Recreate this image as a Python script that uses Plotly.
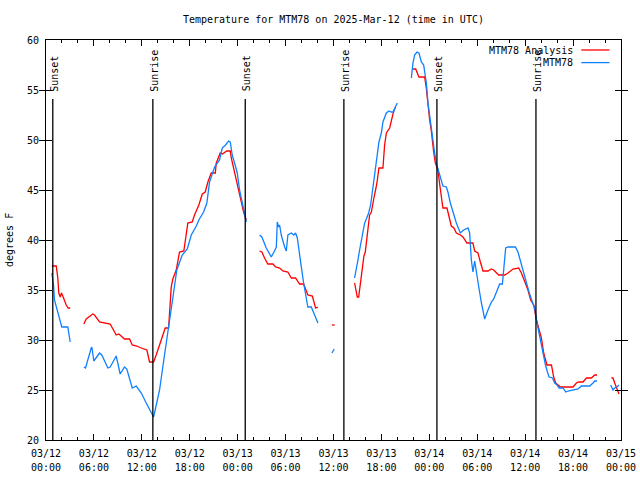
import datetime as dt
import plotly.graph_objects as go

# Hours since 2025-03-12 00:00 UTC; None marks a gap in the record
analysis_hours = [0.73, 1.28, 1.48, 1.60, 1.78, 1.94, 2.10, 2.53, 2.78, 3.03, None,
    4.74, 5.04, 5.86, 6.08, 6.70, 7.54, 8.04, 8.79, 9.12, 9.83, 10.46, 10.80, 11.37, 11.93,
    12.63, 12.97, 13.47, 13.80, 14.63, 14.93, 15.35, 15.68, 15.88, 16.31, 16.72, 17.26, 17.76,
    18.31, 18.60, 19.14, 19.57, 19.94, 20.27, 20.69, 21.20, 21.32, 21.82, 22.07, 22.65, 23.07,
    23.20, 23.40, 23.70, 24.03, 24.45, 24.74, 24.99, 25.08, None,
    26.74, 27.03, 27.37, 27.78, 28.41, 28.75, 29.25, 29.66, 30.29, 30.72, 31.25, 31.75, 32.26,
    32.59, 32.79, 33.35, 33.63, 33.76, 34.05, None,
    35.80, 36.14, None,
    38.64, 38.86, 38.98, 39.15, 39.27, 39.40, 39.56, 39.68, 39.81, 39.98, 40.11, 40.24, 40.40,
    40.52, 40.74, 40.94, 41.06, 41.24, 41.44, 41.69, 42.19, 42.40, 42.62, 43.03, 43.24, 43.57,
    43.78, None,
    45.87, 46.29, 46.70, 47.41, 47.62, 47.83, 48.04, 48.25, 48.45, 48.54, 48.75, 49.08, 49.29,
    49.50, 49.70, 50.21, 50.54, 50.75, 51.08, 51.38, 51.88, 52.21, 52.71, 53.46, 53.68, 54.09,
    54.39, 54.72, 55.34, 55.77, 56.06, 56.68, 57.43, 57.85, 58.47, 59.19, 59.53, 60.07, 60.35,
    60.69, 61.07, 61.41, 61.73, 62.03, 62.32, 62.57, 62.73, 63.29, 63.57, 63.82, 64.41, 65.99,
    66.42, 66.70, 67.24, 67.67, 68.29, 68.71, 69.00, None,
    70.80, 71.00, 71.21, 71.43, 71.75]
analysis_temp = [37.4, 37.4, 36.2, 34.7, 34.3, 34.7, 34.4, 33.5, 33.2, 33.2, None,
    31.6, 32.1, 32.6, 32.5, 31.8, 31.7, 31.6, 30.5, 30.6, 30.1, 30.1, 29.5, 29.4, 29.2,
    29.0, 27.8, 27.8, 28.5, 30.5, 31.2, 31.2, 35.3, 36.1, 37.0, 38.8, 38.9, 41.7,
    41.8, 42.5, 43.5, 44.6, 44.8, 45.8, 46.7, 46.7, 47.7, 48.7, 48.6, 48.9, 48.9,
    48.2, 47.5, 46.3, 45.3, 43.7, 42.8, 42.2, 42.0, None,
    38.9, 38.8, 38.2, 37.6, 37.6, 37.3, 37.2, 36.9, 36.8, 36.2, 36.2, 35.6, 35.6,
    35.0, 34.5, 34.4, 33.5, 33.2, 33.3, None,
    31.5, 31.5, None,
    35.7, 34.8, 34.3, 34.3, 35.0, 36.0, 37.0, 37.9, 38.4, 38.8, 39.7, 40.3, 41.7,
    42.5, 42.8, 43.5, 44.2, 44.9, 45.7, 47.2, 47.2, 49.5, 50.7, 51.2, 52.0, 53.0,
    53.3, None,
    57.1, 57.1, 56.3, 56.3, 55.2, 53.3, 52.0, 50.9, 49.0, 48.8, 47.7, 47.0, 45.6,
    44.3, 43.2, 43.2, 42.0, 41.4, 41.2, 40.7, 40.5, 40.3, 39.7, 39.7, 38.9, 38.7,
    37.8, 36.9, 36.9, 37.1, 37.0, 36.5, 36.5, 36.7, 37.1, 37.2, 36.7, 35.7, 35.0,
    34.0, 33.5, 32.0, 31.0, 30.2, 28.7, 27.8, 27.5, 27.5, 26.3, 25.7, 25.3, 25.3,
    25.7, 25.8, 25.8, 26.2, 26.2, 26.5, 26.5, None,
    26.2, 26.2, 25.7, 25.2, 24.6]

obs_hours = [0.73, 0.94, 1.06, 1.28, 1.48, 1.78, 1.98, 2.73, 2.86, 3.03, None,
    4.74, 4.95, 5.66, 5.74, 5.99, 6.70, 6.99, 7.74, 8.04, 8.79, 9.29, 9.83, 10.12, 10.80,
    11.30, 11.93, 12.55, 13.18, 13.47, 13.59, 14.22, 14.84, 15.26, 15.88, 16.38, 17.06, 17.69,
    18.19, 18.82, 19.14, 19.73, 20.14, 20.48, 20.89, 21.11, 21.73, 22.07, 22.48, 22.86, 23.07,
    23.32, 23.61, 23.95, 24.24, 24.65, 24.95, 25.08, None,
    26.74, 27.03, 27.58, 28.21, 28.54, 28.84, 28.96, 29.13, 29.25, 29.46, 29.88, 30.09, 30.29,
    30.72, 31.04, 31.25, 31.47, 31.75, 31.97, 32.26, 32.51, 32.79, 33.22, 33.63, 34.05, None,
    35.80, 36.10, None,
    38.64, 38.86, 39.06, 39.27, 39.48, 39.68, 39.90, 40.11, 40.40, 40.65, 40.81, 40.94, 41.24,
    41.49, 41.69, 41.99, 42.19, 42.62, 42.94, 43.24, 43.53, 43.74, 43.99, None,
    45.75, 45.95, 46.16, 46.45, 46.70, 47.00, 47.29, 47.63, 47.83, 48.25, 48.67, 48.87, 49.20,
    49.50, 49.70, 50.13, 50.33, 50.63, 50.96, 51.38, 51.88, 52.30, 52.84, 53.05, 53.26, 53.46,
    53.68, 53.89, 54.09, 54.52, 54.93, 55.34, 55.77, 56.06, 56.47, 56.81, 57.15, 57.22, 57.56,
    57.85, 58.78, 59.10, 59.53, 60.07, 60.48, 60.90, 61.19, 61.48, 61.82, 62.24, 62.54, 62.79,
    62.99, 63.41, 63.70, 63.99, 64.24, 64.74, 65.08, 65.37, 66.20, 66.62, 67.04, 68.08, 68.50,
    68.71, 69.00, None,
    70.71, 71.00, 71.21, 71.50, 71.75]
obs_temp = [36.7, 35.5, 34.0, 33.3, 32.7, 32.0, 31.3, 31.3, 30.5, 29.8, None,
    27.3, 27.2, 29.2, 29.3, 27.9, 28.7, 28.5, 27.2, 27.3, 28.4, 26.6, 27.3, 27.1, 25.2,
    25.4, 24.7, 23.7, 22.8, 22.3, 22.7, 25.0, 28.5, 31.0, 34.2, 37.0, 38.5, 39.1,
    40.5, 41.4, 42.0, 42.8, 43.7, 45.8, 46.8, 47.3, 48.0, 49.2, 49.5, 49.9, 49.8,
    48.5, 47.7, 46.7, 45.0, 43.3, 42.2, 41.8, None,
    40.5, 40.3, 39.2, 38.3, 38.8, 39.3, 41.8, 41.3, 41.5, 40.5, 39.3, 38.9, 40.5,
    40.7, 40.5, 40.7, 40.2, 38.8, 37.3, 35.7, 34.7, 33.3, 33.3, 32.5, 31.7, None,
    28.7, 29.1, None,
    36.2, 37.0, 38.0, 39.0, 40.0, 40.8, 41.7, 42.1, 42.7, 43.5, 44.5, 45.0, 47.2,
    48.7, 49.8, 50.7, 51.8, 52.7, 52.9, 52.8, 52.8, 53.3, 53.7, None,
    56.2, 57.7, 58.5, 58.8, 58.7, 57.8, 57.5, 55.7, 53.7, 51.0, 48.7, 47.7, 46.7,
    45.8, 45.4, 45.3, 44.8, 43.7, 42.8, 41.7, 40.7, 41.0, 41.2, 40.7, 38.0, 36.8,
    37.9, 36.7, 35.8, 33.7, 32.1, 33.0, 33.8, 34.1, 35.0, 35.6, 35.6, 36.3, 39.2,
    39.3, 39.3, 38.8, 37.5, 35.8, 34.8, 33.8, 33.2, 31.7, 30.3, 28.8, 27.5, 26.8,
    26.3, 26.2, 25.7, 25.5, 25.2, 25.2, 24.8, 24.9, 25.0, 25.1, 25.4, 25.4, 25.7,
    25.9, 25.9, None,
    25.5, 25.0, 25.2, 25.3, 25.5]

sun_labels = ["Sunset", "Sunrise", "Sunset", "Sunrise", "Sunset", "Sunrise"]
sun_hours = [0.85, 13.38, 24.95, 37.30, 48.95, 61.35]

series_names = ["MTM78 Analysis", "MTM78"]
series_colors = ["#ff0000", "#1080ff"]

start = dt.datetime(2025, 3, 12, 0, 0)
end = dt.datetime(2025, 3, 15, 0, 0)


def to_time(hours):
    return [None if h is None else start + dt.timedelta(hours=h) for h in hours]


FONT = "DejaVu Sans Mono"
fig = go.Figure()

fig.add_trace(go.Scatter(x=to_time(analysis_hours), y=analysis_temp, mode="lines",
                         name=series_names[0], connectgaps=False,
                         line=dict(color=series_colors[0], width=1.3)))
fig.add_trace(go.Scatter(x=to_time(obs_hours), y=obs_temp, mode="lines",
                         name=series_names[1], connectgaps=False,
                         line=dict(color=series_colors[1], width=1.3)))
# invisible trace that carries the second line (HH:MM) of the time labels
fig.add_trace(go.Scatter(x=[start, end], y=[None, None], xaxis="x2", mode="lines",
                         showlegend=False, hoverinfo="skip"))

# Sunrise / sunset markers
for lab, h in zip(sun_labels, sun_hours):
    t = start + dt.timedelta(hours=h)
    fig.add_shape(type="line", xref="x", yref="y", x0=t, x1=t, y0=20, y1=54.1,
                  line=dict(color="black", width=1.3))
    fig.add_annotation(x=t, y=54.75, xref="x", yref="y", text=lab, textangle=-90,
                       showarrow=False, xanchor="center", yanchor="bottom", xshift=1.5,
                       borderpad=0, font=dict(family=FONT, size=10, color="black"))

# Legend drawn gnuplot-style (text right-aligned, sample line on the right)
legend_y = [0.975, 0.9435]
for name, color, ly in zip(series_names, series_colors, legend_y):
    fig.add_annotation(x=0.919, y=ly, xref="paper", yref="paper", text=name,
                       showarrow=False, xanchor="right", yanchor="middle", borderpad=0,
                       font=dict(family=FONT, size=10, color="black"))
    fig.add_shape(type="line", xref="paper", yref="paper", x0=0.931, x1=0.980,
                  y0=ly, y1=ly, line=dict(color=color, width=1.3))

# Y-axis title
fig.add_annotation(x=0, y=0.5, xref="paper", yref="paper", text="degrees F",
                   textangle=-90, showarrow=False, xshift=-37, xanchor="center",
                   yanchor="middle", font=dict(family=FONT, size=10, color="black"))

tick_vals = [start + dt.timedelta(hours=6 * i) for i in range(13)]
tick_font = dict(family=FONT, size=10, color="black")

fig.update_layout(
    width=640, height=480,
    margin=dict(l=46, r=19, t=40, b=40, autoexpand=False),
    paper_bgcolor="white", plot_bgcolor="white",
    showlegend=False,
    font=dict(family=FONT, size=10, color="black"),
    title=dict(text="Temperature for MTM78 on 2025-Mar-12 (time in UTC)",
               x=0.521, xanchor="center", y=0.96, yanchor="middle",
               font=dict(family=FONT, size=10, color="black")),
    xaxis=dict(range=[start, end], type="date", tickvals=tick_vals, automargin=False,
               tickformat="%m/%d", ticks="inside", ticklen=6, tickcolor="black",
               showline=True, linecolor="black", linewidth=1, mirror="allticks",
               showgrid=False, zeroline=False, tickfont=tick_font, ticklabelstandoff=4,
               minor=dict(ticks="inside", ticklen=3, dtick=2 * 3600 * 1000,
                          tickcolor="black", showgrid=False)),
    xaxis2=dict(range=[start, end], type="date", tickvals=tick_vals, automargin=False,
                tickformat="%H:%M", overlaying="x", anchor="y", side="bottom",
                ticks="", showline=False, showgrid=False, zeroline=False,
                tickfont=tick_font, ticklabelstandoff=20),
    yaxis=dict(range=[20, 60], dtick=5, ticks="inside", ticklen=6, tickcolor="black",
               showline=True, linecolor="black", linewidth=1, mirror="allticks",
               showgrid=False, zeroline=False, ticklabelstandoff=4, automargin=False,
               tickfont=tick_font),
)

fig.write_html("out.html", config={"displayModeBar": False},
               post_script="document.body.style.margin='0px';")
